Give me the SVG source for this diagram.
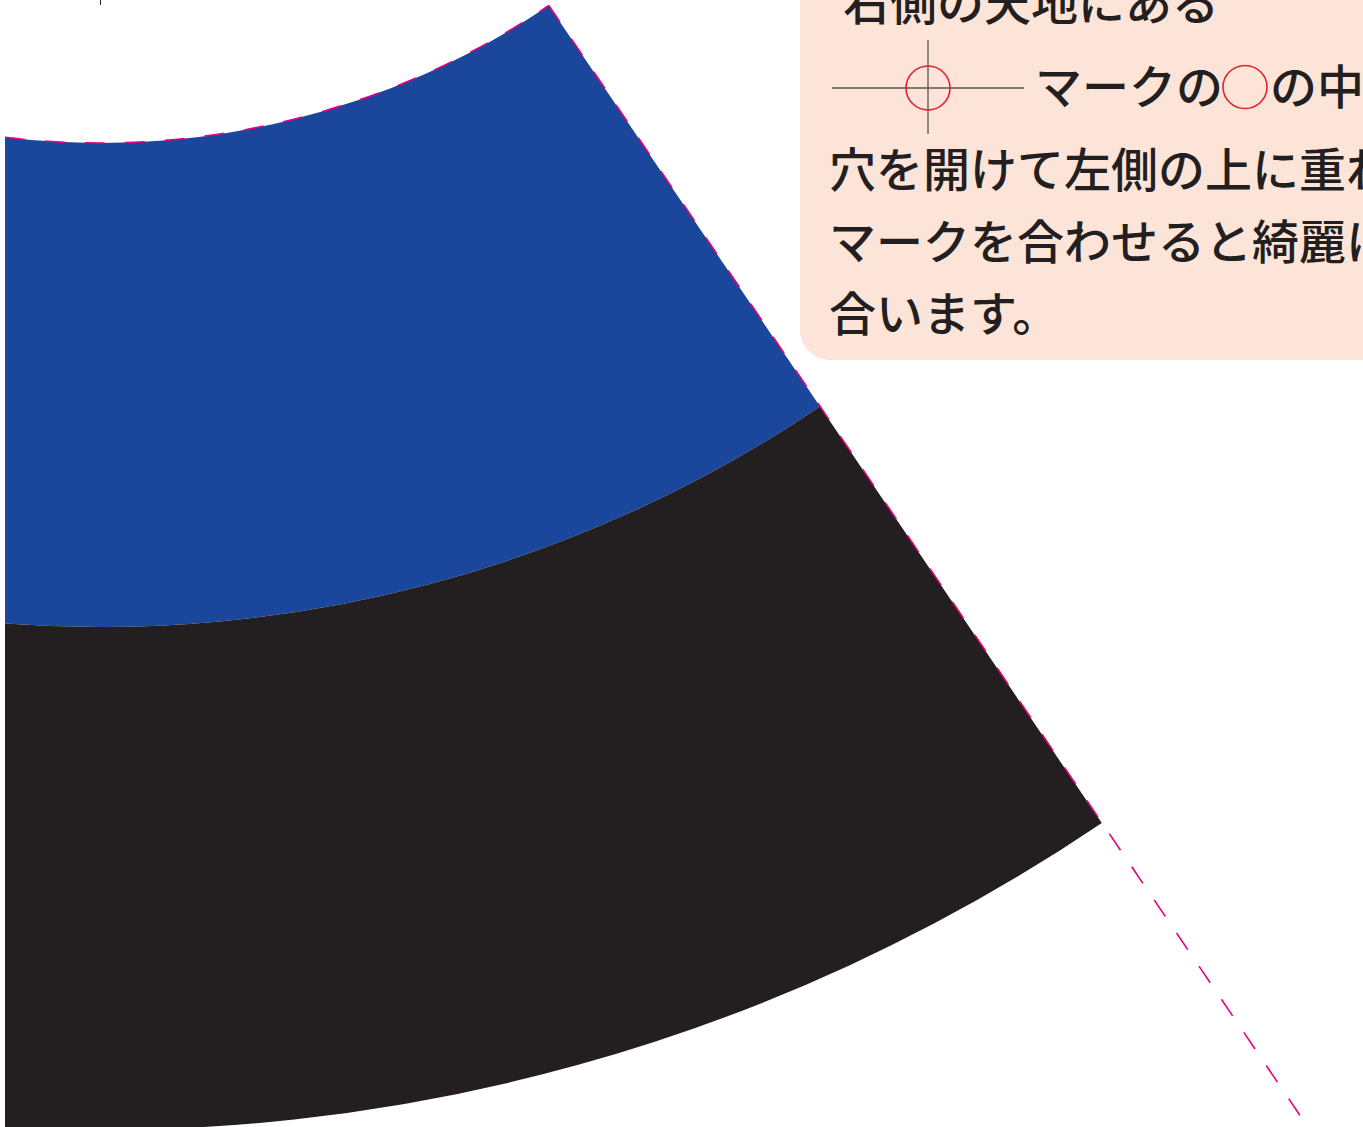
<svg xmlns="http://www.w3.org/2000/svg" width="1363" height="1127" viewBox="0 0 1363 1127">
  <style>
    .txt { font-family: "Noto Sans CJK JP", "Noto Sans", sans-serif; font-size: 47px; font-weight: 500; fill: #231f20; }
    .cut { fill: none; stroke: #e5007f; stroke-width: 1.6; stroke-dasharray: 20 20; }
    .cross { stroke: #555555; stroke-width: 1.3; fill: none; }
    .red { fill: none; stroke: #e8202a; stroke-width: 1.6; }
  </style>
  <rect width="1363" height="1127" fill="#ffffff"/>
  <g id="fan">
    <path id="band-blue" d="M5,137.3 A801,801 0 0,0 548.8,5.5 L820,406.4 A1285,1285 0 0,1 5,623.5 Z" fill="#1a479b"/>
    <path id="band-black" d="M5,623.5 A1285,1285 0 0,0 820,406.4 L1101.8,823 A1788,1788 0 0,1 5,1127.5 Z" fill="#231f20"/>
  </g>
  <g id="cut-lines">
    <path class="cut" d="M5,137.3 A801,801 0 0,0 548.8,5.5"/>
    <path class="cut" d="M548.8,5.5 L1318,1142" stroke-dasharray="22 22"/>
  </g>
  <line x1="100.5" y1="0" x2="100.5" y2="5" stroke="#231f20" stroke-width="1"/>
  <g id="note">
    <rect x="800" y="-40" width="620" height="400" rx="30" ry="30" fill="#fde4d9"/>
    <text class="txt" x="843" y="20">右側の天地にある</text>
    <g id="register-mark">
      <line class="cross" x1="832" y1="88" x2="1024" y2="88"/>
      <line class="cross" x1="928" y1="40" x2="928" y2="134"/>
      <circle class="red" cx="928" cy="88" r="22"/>
    </g>
    <text class="txt" x="1035" y="104">マークの<tspan dx="47">の中</tspan></text>
    <ellipse class="red" cx="1245" cy="87" rx="22" ry="21.5"/>
    <text class="txt" x="829" y="187">穴を開けて左側の上に重ね</text>
    <text class="txt" x="829" y="259">マークを合わせると綺麗に</text>
    <text class="txt" x="829" y="331">合います。</text>
  </g>
</svg>
